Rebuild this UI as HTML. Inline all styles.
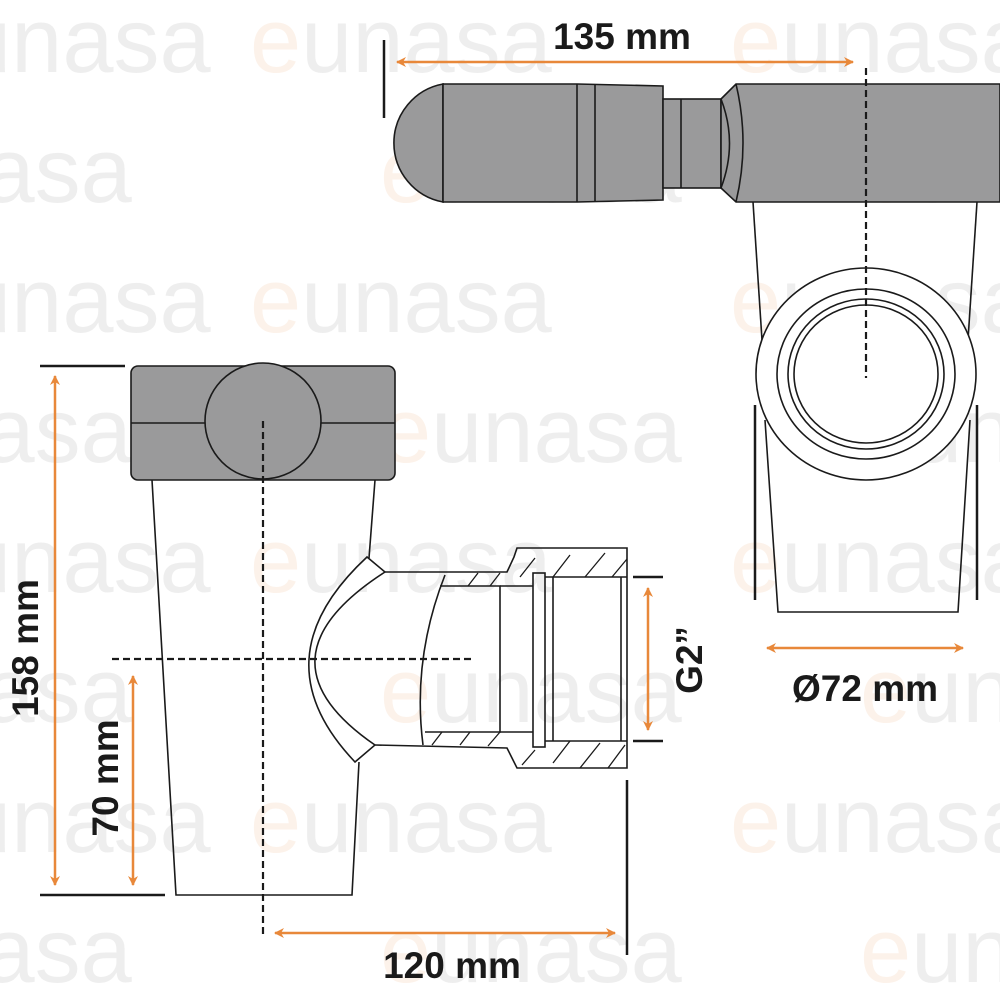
<!DOCTYPE html>
<html><head><meta charset="utf-8"><style>
html,body{margin:0;padding:0;background:#fff;}
svg{display:block;}
</style></head><body>
<svg width="1000" height="1000" viewBox="0 0 1000 1000" xmlns="http://www.w3.org/2000/svg">
<defs>
<marker id="ah" markerWidth="10" markerHeight="10" refX="9" refY="5" orient="auto-start-reverse" markerUnits="userSpaceOnUse">
<path d="M0,0 L10,5 L0,10 L3,5 Z" fill="#e8883a"/>
</marker>
</defs>
<!-- watermark -->
<g font-family="Liberation Sans, sans-serif" font-size="92" opacity="0.1" fill="#666">
<text x="-40" y="72">unasa</text><text x="250" y="72"><tspan fill="#e8883a">e</tspan>unasa</text><text x="730" y="72"><tspan fill="#e8883a">e</tspan>unasa</text>
<text x="-170" y="202"><tspan fill="#e8883a">e</tspan>unasa</text><text x="380" y="202"><tspan fill="#e8883a">e</tspan>unasa</text><text x="860" y="202"><tspan fill="#e8883a">e</tspan>unasa</text>
<text x="-40" y="332">unasa</text><text x="250" y="332"><tspan fill="#e8883a">e</tspan>unasa</text><text x="730" y="332"><tspan fill="#e8883a">e</tspan>unasa</text>
<text x="-170" y="462"><tspan fill="#e8883a">e</tspan>unasa</text><text x="380" y="462"><tspan fill="#e8883a">e</tspan>unasa</text><text x="860" y="462"><tspan fill="#e8883a">e</tspan>unasa</text>
<text x="-40" y="592">unasa</text><text x="250" y="592"><tspan fill="#e8883a">e</tspan>unasa</text><text x="730" y="592"><tspan fill="#e8883a">e</tspan>unasa</text>
<text x="-170" y="722"><tspan fill="#e8883a">e</tspan>unasa</text><text x="380" y="722"><tspan fill="#e8883a">e</tspan>unasa</text><text x="860" y="722"><tspan fill="#e8883a">e</tspan>unasa</text>
<text x="-40" y="852">unasa</text><text x="250" y="852"><tspan fill="#e8883a">e</tspan>unasa</text><text x="730" y="852"><tspan fill="#e8883a">e</tspan>unasa</text>
<text x="-170" y="982"><tspan fill="#e8883a">e</tspan>unasa</text><text x="380" y="982"><tspan fill="#e8883a">e</tspan>unasa</text><text x="860" y="982"><tspan fill="#e8883a">e</tspan>unasa</text>
</g>
<g fill="none" stroke="#1a1a1a" stroke-width="1.6">
<!-- TOP VIEW -->
<path d="M443,84 L443,202 A60,60 0 0 1 443,84 Z" fill="#9a9a9b"/>
<path d="M443,84 L577,84 L663,86 L663,200 L577,202 L443,202 Z" fill="#9a9a9b"/>
<line x1="577" y1="84" x2="577" y2="202"/><line x1="595" y1="84" x2="595" y2="202"/>
<rect x="663" y="99" width="58" height="89" fill="#9a9a9b"/>
<line x1="681" y1="99" x2="681" y2="188"/>
<path d="M721,99 L736,84 L1000,84 L1000,202 L736,202 L721,188 Z" fill="#9a9a9b"/>
<path d="M721,99 Q738,143 721,188"/>
<path d="M736,84 Q750,143 736,202"/>
<path d="M753,202 L762,340"/><path d="M977,202 L968,340"/>
<ellipse cx="866" cy="374" rx="110" ry="106" fill="#fff"/>
<ellipse cx="866" cy="374" rx="89" ry="85"/>
<ellipse cx="866" cy="374" rx="78" ry="75"/>
<ellipse cx="866" cy="374" rx="72" ry="69"/>
<path d="M765,420 L778,612 L958,612 L970,420"/>
<line x1="384" y1="40" x2="384" y2="118" stroke-width="2.5"/>
<line x1="755" y1="405" x2="755" y2="600" stroke-width="2.5"/>
<line x1="977" y1="405" x2="977" y2="600" stroke-width="2.5"/>
<line x1="866" y1="68" x2="866" y2="378" stroke-dasharray="7,4" stroke-width="2.2"/>

<!-- LOWER VIEW -->
<path d="M152,480 L176,895 L352,895 L359,762"/>
<path d="M375,480 L369,558"/>
<rect x="131" y="366" width="264" height="114" rx="7" fill="#9a9a9b"/>
<line x1="131" y1="423" x2="205" y2="423"/><line x1="321" y1="423" x2="395" y2="423"/>
<circle cx="263" cy="421" r="58" fill="#9a9a9b"/>
<path d="M367,557 Q257,659 355,762 L375,745 Q250,659 385,572 Z" fill="#fff"/>
<path d="M385,572 L507,572 L514,557 L517,548 L627,548 L627,768 L517,768 L512,758 L507,748 L375,745"/>
<path d="M445,575 Q412,659 423,745"/>
<path d="M440,586 L500,586 L500,732 L425,732"/>
<path d="M500,586 L533,586 M500,732 L533,732"/>
<rect x="533" y="573" width="12" height="174"/>
<line x1="553" y1="577" x2="553" y2="741"/>
<path d="M545,577 L627,577 M545,741 L627,741"/>
<line x1="621" y1="577" x2="621" y2="741"/>
<g stroke-width="1.3">
<path d="M468,586 L478,573 M490,586 L500,573 M520,577 L535,558 M553,577 L570,555 M585,577 L605,553 M612,577 L627,559"/>
<path d="M432,745 L442,732 M460,745 L470,732 M488,746 L500,732 M522,765 L535,750 M553,763 L570,741 M580,768 L600,743 M608,768 L625,745"/>
</g>
<line x1="263" y1="421" x2="263" y2="935" stroke-dasharray="7,4" stroke-width="2.2"/>
<line x1="112" y1="659" x2="475" y2="659" stroke-dasharray="7,4" stroke-width="2.2"/>
<line x1="40" y1="366" x2="125" y2="366" stroke-width="2.5"/>
<line x1="40" y1="895" x2="165" y2="895" stroke-width="2.5"/>
<line x1="633" y1="577" x2="663" y2="577" stroke-width="2.5"/>
<line x1="633" y1="741" x2="663" y2="741" stroke-width="2.5"/>
<line x1="627" y1="780" x2="627" y2="955" stroke-width="2.5"/>
</g>
<g stroke="#e8883a" stroke-width="2.5" fill="none">
<line x1="397" y1="62" x2="853" y2="62" marker-start="url(#ah)" marker-end="url(#ah)"/>
<line x1="767" y1="648" x2="963" y2="648" marker-start="url(#ah)" marker-end="url(#ah)"/>
<line x1="55" y1="376" x2="55" y2="885" marker-start="url(#ah)" marker-end="url(#ah)"/>
<line x1="133" y1="676" x2="133" y2="885" marker-start="url(#ah)" marker-end="url(#ah)"/>
<line x1="648" y1="588" x2="648" y2="730" marker-start="url(#ah)" marker-end="url(#ah)"/>
<line x1="275" y1="933" x2="615" y2="933" marker-start="url(#ah)" marker-end="url(#ah)"/>
</g>
<g font-family="Liberation Sans, sans-serif" font-weight="bold" font-size="37" fill="#1a1a1a" text-anchor="middle">
<text x="622" y="49">135 mm</text>
<text x="865" y="701">Ø72 mm</text>
<text x="452" y="978">120 mm</text>
<text transform="translate(38,648) rotate(-90)">158 mm</text>
<text transform="translate(118,778) rotate(-90)">70 mm</text>
<text transform="translate(702,660) rotate(-90)">G2”</text>
</g>
</svg>
</body></html>
